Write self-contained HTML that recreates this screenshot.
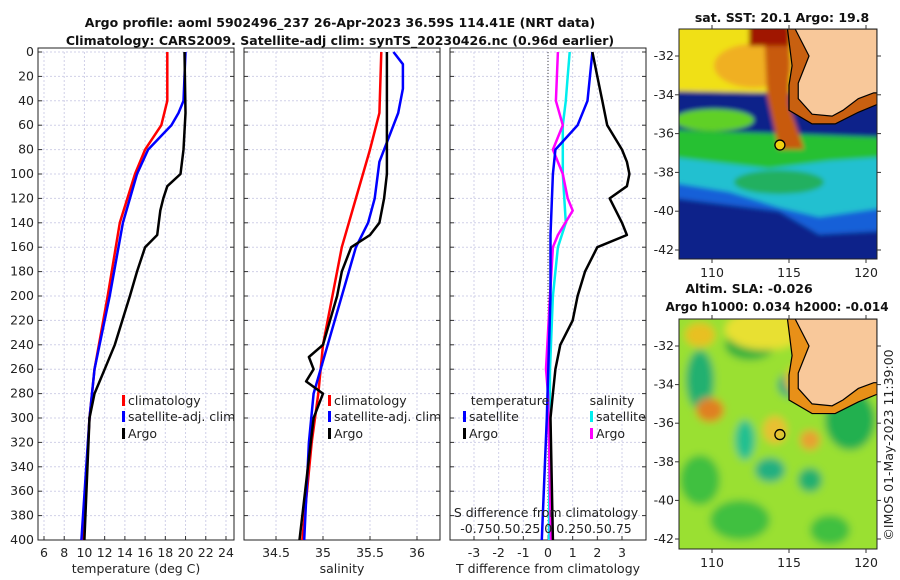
<!DOCTYPE html>
<html><head><meta charset="utf-8"><style>
body{margin:0;background:#fff;}
svg{display:block;font-family:"DejaVu Sans","Liberation Sans",sans-serif;}
.t{font-size:12.5px;fill:#222;}
.b{font-size:12.5px;font-weight:bold;fill:#111;}
</style></head><body>
<svg id="c" width="900" height="580">
<text class="b" x="340" y="27" text-anchor="middle">Argo profile: aoml 5902496_237 26-Apr-2023 36.59S 114.41E (NRT data)</text>
<text class="b" x="340" y="45" text-anchor="middle">Climatology: CARS2009. Satellite-adj clim: synTS_20230426.nc (0.96d earlier)</text>
<g id="p1"></g>
<g id="p2"></g>
<g id="p3"></g>
<g id="m1"></g>
<g id="m2"></g>
<text class="t" transform="translate(893,445) rotate(-90)" text-anchor="middle">©IMOS 01-May-2023 11:39:00</text>
</svg>
<script>
const NS='http://www.w3.org/2000/svg';
const depthTicks=[0,20,40,60,80,100,120,140,160,180,200,220,240,260,280,300,320,340,360,380,400];
const tempTicks=[6,8,10,12,14,16,18,20,22,24];
const salTicks=[34.5,35,35.5,36];
const dTTicks=[-3,-2,-1,0,1,2,3];
const tClimD=[0,40,60,80,100,140,200,260,300,400];
const tClimV=[18.2,18.2,17.6,16,15,13.5,12.3,11,10.5,9.8];
const tSatD=[0,40,50,60,80,100,140,200,260,300,400];
const tSatV=[20,19.8,19.3,18.6,16.3,15.2,13.8,12.5,11,10.5,9.7];
const tArgD=[0,50,80,100,110,120,130,150,160,180,200,240,260,280,300,400];
const tArgV=[19.9,20,19.8,19.5,18.2,17.8,17.5,17.2,16,15.2,14.5,13,12,11,10.5,10];
const sClimD=[0,50,80,120,160,200,240,280,320,400];
const sClimV=[35.62,35.6,35.5,35.35,35.2,35.1,35,34.95,34.88,34.78];
const sSatD=[0,10,30,50,70,90,120,140,160,200,240,280,320,400];
const sSatV=[35.75,35.85,35.85,35.8,35.7,35.6,35.55,35.48,35.35,35.2,35.05,34.9,34.85,34.8];
const sArgD=[0,100,120,140,150,160,180,200,240,250,260,270,280,300,400];
const sArgV=[35.68,35.68,35.65,35.6,35.5,35.3,35.2,35.15,35,34.85,34.9,34.82,35,34.9,34.75];
const dTSatD=[0,40,60,80,100,150,200,300,400];
const dTSatV=[1.8,1.6,1.2,0.3,0.2,0.1,0.1,-0.05,-0.25];
const dTArgD=[0,20,40,60,80,90,100,110,120,140,150,160,180,200,220,240,260,280,300,400];
const dTArgV=[1.8,2.0,2.2,2.4,3.0,3.2,3.3,3.2,2.5,3.0,3.2,2.0,1.5,1.2,1.0,0.5,0.3,0.2,0.1,0.2];
const dSSatD=[0,20,40,60,100,140,160,200,260,400];
const dSSatV=[0.22,0.2,0.18,0.15,0.15,0.18,0.1,0.05,0.02,0.01];
const dSArgD=[0,40,60,80,100,120,130,150,160,200,260,280,400];
const dSArgV=[0.1,0.08,0.15,0.05,0.15,0.2,0.25,0.1,0.05,0.02,-0.02,0.0,0.03];

const Y=d=>52+d*(540-52)/400;
function el(p,t,a){const e=document.createElementNS(NS,t);for(const k in a)e.setAttribute(k,a[k]);p.appendChild(e);return e;}
function txt(p,x,y,s,anchor,cls){const e=el(p,'text',{x:x,y:y,'text-anchor':anchor||'middle',class:cls||'t'});e.textContent=s;return e;}
function panel(g,x0,x1,X,xt,xtl,label,showY){
  for(const d of depthTicks){const l=el(g,'line',{x1:x0,x2:x1,y1:Y(d),y2:Y(d),stroke:'#d0d0e8','stroke-dasharray':'2,2'});
    }
  xt.forEach((v,i)=>{const x=X(v);const l=el(g,'line',{x1:x,x2:x,y1:52,y2:540,stroke:'#d0d0e8','stroke-dasharray':'2,2'});
    
    el(g,'line',{x1:x,x2:x,y1:540,y2:536,stroke:'#333'});
    const t=txt(g,x,557,xtl[i]);});
  for(const d of depthTicks){el(g,'line',{x1:x0,x2:x0+4,y1:Y(d),y2:Y(d),stroke:'#333'});el(g,'line',{x1:x1,x2:x1-4,y1:Y(d),y2:Y(d),stroke:'#333'});
    if(showY){const t=txt(g,x0-4,Y(d)+4,String(d),'end');}}
  const r=el(g,'rect',{x:x0,y:48,width:x1-x0,height:492,fill:'none',stroke:'#222'});
  
  const t=txt(g,(x0+x1)/2,573,label);
}
function line(g,D,V,X,col,w,name){const pts=D.map((d,i)=>X(V[i]).toFixed(1)+','+Y(d).toFixed(1)).join(' ');
  const p=el(g,'polyline',{points:pts,fill:'none',stroke:col,'stroke-width':w,'stroke-linejoin':'round'});
  }
function leg(g,x,y,col,s){el(g,'rect',{x:x,y:y-10,width:3,height:11,fill:col});const t=txt(g,x+6,y,s,'start');
  }

const g1=document.getElementById('p1');const XT=v=>44+(v-6)*10.11;
panel(g1,38,234,XT,tempTicks,tempTicks.map(String),'temperature (deg C)',true);
line(g1,tClimD,tClimV,XT,'#f00',2.5,'temp-climatology-line');
line(g1,tSatD,tSatV,XT,'#00f',2.5,'temp-satellite-line');
line(g1,tArgD,tArgV,XT,'#000',2.5,'temp-argo-line');
leg(g1,122,405,'#f00','climatology');leg(g1,122,421,'#00f','satellite-adj. clim');leg(g1,122,438,'#000','Argo');

const g2=document.getElementById('p2');const XS=v=>276+(v-34.5)*94;
panel(g2,244,440,XS,salTicks,['34.5','35','35.5','36'],'salinity',false);
line(g2,sClimD,sClimV,XS,'#f00',2.5,'sal-climatology-line');
line(g2,sSatD,sSatV,XS,'#00f',2.5,'sal-satellite-line');
line(g2,sArgD,sArgV,XS,'#000',2.5,'sal-argo-line');
leg(g2,328,405,'#f00','climatology');leg(g2,328,421,'#00f','satellite-adj. clim');leg(g2,328,438,'#000','Argo');

const g3=document.getElementById('p3');const XD=v=>548+v*24.67;const XDS=v=>XD(v*4);
panel(g3,450,646,XD,dTTicks,dTTicks.map(String),'T difference from climatology',false);
el(g3,'line',{x1:548,x2:548,y1:52,y2:540,stroke:'#444','stroke-dasharray':'1,2'});
line(g3,dSSatD,dSSatV,XDS,'#0ee',2.5,'sdiff-satellite-line');
line(g3,dSArgD,dSArgV,XDS,'#f0f',2.5,'sdiff-argo-line');
line(g3,dTSatD,dTSatV,XD,'#00f',2.5,'tdiff-satellite-line');
line(g3,dTArgD,dTArgV,XD,'#000',2.5,'tdiff-argo-line');
txt(g3,510,405,'temperature');txt(g3,612,405,'salinity');
leg(g3,463,421,'#00f','satellite');leg(g3,463,438,'#000','Argo');
leg(g3,590,421,'#0ee','satellite');leg(g3,590,438,'#f0f','Argo');
let st=txt(g3,546,517,'S difference from climatology');
let sl=txt(g3,546,533,'-0.750.50.25 0  0.250.50.75');

// maps
const LX=l=>712+(l-110)*15.4;
function map(g,top,bot,latY,title,kind){
  const x0=679,x1=877;
  const cp='clip'+kind;const d=el(g,'defs',{});const c=el(d,'clipPath',{id:cp});el(c,'rect',{x:x0,y:top,width:x1-x0,height:bot-top});
  const fl=el(d,'filter',{id:'bl'+kind});el(fl,'feGaussianBlur',{stdDeviation:kind==='sst'?2.5:4});
  const m=el(g,'g',{'clip-path':'url(#'+cp+')'});
  const F=el(m,'g',{filter:'url(#bl'+kind+')'});
  if(kind==='sst'){
    el(F,'rect',{x:x0-10,y:top-10,width:220,height:bot-top+20,fill:'#08208a'});
    el(F,'path',{d:`M${x0-10},${latY(-39.3)} L${x0+100},${latY(-40)} L${x0+140},${latY(-41.2)} L${x1+10},${latY(-41)} L${x1+10},${latY(-39)} L${x0-10},${latY(-38.2)}Z`,fill:'#1860d8'});
    el(F,'path',{d:`M${x0-10},${latY(-38.5)} L${x0+50},${latY(-39)} L${x0+100},${latY(-39.8)} L${x0+140},${latY(-40.3)} L${x1+10},${latY(-39.8)} L${x1+10},${latY(-37)} L${x0-10},${latY(-37)}Z`,fill:'#20c0d0'});
    el(F,'ellipse',{cx:x0+100,cy:latY(-38.5),rx:45,ry:12,fill:'#20b060'});
    el(F,'path',{d:`M${x0-10},${latY(-37.2)} L${x0+90},${latY(-37.8)} L${x0+150},${latY(-37.4)} L${x1+10},${latY(-37.2)} L${x1+10},${latY(-36.2)} L${x0-10},${latY(-35.8)}Z`,fill:'#28c030'});
    el(F,'rect',{x:x0-10,y:latY(-36),width:220,height:latY(-33.5)-latY(-36),fill:'#c8ec18'});
    el(F,'ellipse',{cx:x0+35,cy:latY(-35.3),rx:40,ry:11,fill:'#60d028'});
    el(F,'path',{d:`M${x0-10},${top-10} L${x1},${top-10} L${x1},${latY(-34)} L${x0-10},${latY(-33.8)}Z`,fill:'#f0e018'});
    el(F,'ellipse',{cx:x0+75,cy:latY(-32.5),rx:40,ry:22,fill:'#f0b020'});
    el(F,'path',{d:`M${x0+85},${top} L${x0+112},${top} L${x0+110},${latY(-34.5)} L${x0+125},${latY(-36.8)} L${x0+100},${latY(-36.8)} L${x0+88},${latY(-34)}Z`,fill:'#c85a10'});
    el(F,'rect',{x:x0+70,y:top-5,width:40,height:22,fill:'#a01800'});
    el(F,'rect',{x:x0+115,y:latY(-36.3),width:90,height:latY(-34.5)-latY(-36.3),fill:'#f2c818'});
  }else{
    el(F,'rect',{x:x0-10,y:top-10,width:220,height:bot-top+20,fill:'#9ae030'});
    [[700,380,14,30,'#20b070'],[750,345,25,15,'#30b040'],[790,385,12,12,'#20a880'],[745,440,10,20,'#20c090'],[770,470,15,12,'#20b080'],[810,480,12,12,'#20b070'],[850,420,25,30,'#20b050'],[700,480,20,25,'#40c040'],[740,520,30,20,'#40c040'],[830,530,20,15,'#40c040']].forEach(a=>el(F,'ellipse',{cx:a[0],cy:a[1],rx:a[2],ry:a[3],fill:a[4]}));
    [[710,410,14,12,'#e08020'],[765,330,40,20,'#e8e030'],[700,335,15,12,'#e8c020'],[775,430,12,14,'#e8c030'],[810,440,10,10,'#e8a030'],[800,380,15,15,'#e8c020']].forEach(a=>el(F,'ellipse',{cx:a[0],cy:a[1],rx:a[2],ry:a[3],fill:a[4]}));
  }
  const land=`M${LX(115.4)},${top} L${LX(116.3)},${latY(-32)} L${LX(115.6)},${latY(-33.4)} L${LX(115.6)},${latY(-34.2)} L${LX(116.5)},${latY(-35)} L${LX(117.8)},${latY(-35.1)} L${LX(118.5)},${latY(-34.8)} L${LX(119.5)},${latY(-34.2)} L${LX(120.5)},${latY(-33.9)} L${x1},${latY(-33.9)} L${x1},${top}Z`;
  el(m,'path',{d:`M${LX(114.9)},${top} L${LX(115.2)},${latY(-32.5)} L${LX(115)},${latY(-33.5)} L${LX(115)},${latY(-34.8)} L${LX(116.5)},${latY(-35.5)} L${LX(118)},${latY(-35.5)} L${LX(119.5)},${latY(-34.9)} L${x1},${latY(-34.5)} L${x1},${top}Z`,fill:kind==='sst'?'#c86010':'#e89018',stroke:'#000','stroke-width':1.2});
  const L=el(m,'path',{d:land,fill:'#f8c89a',stroke:'#000','stroke-width':1.2});
  
  const p=el(g,'circle',{cx:LX(114.41),cy:latY(-36.59),r:5,fill:kind==='sst'?'#f0d010':'none',stroke:'#000','stroke-width':1.3});
  
  el(g,'rect',{x:x0,y:top,width:x1-x0,height:bot-top,fill:'none',stroke:'#222'});
  [-32,-34,-36,-38,-40,-42].forEach(l=>{el(g,'line',{x1:x0-4,x2:x0,y1:latY(l),y2:latY(l),stroke:'#333'});el(g,'line',{x1:x1,x2:x1+4,y1:latY(l),y2:latY(l),stroke:'#333'});
    const t=txt(g,x0-5,latY(l)+4,String(l),'end');});
  [110,115,120].forEach(l=>{el(g,'line',{x1:LX(l),x2:LX(l),y1:bot,y2:bot+4,stroke:'#333'});el(g,'line',{x1:LX(l),x2:LX(l),y1:top,y2:top-4,stroke:'#333'});
    const t=txt(g,LX(l),bot+18,String(l));});
  title.forEach((s,i)=>{const t=txt(g,i===0&&kind==='sla'?749:(kind==='sla'?777:782),(kind==='sst'?22:293)+i*18,s,'middle','b');
    if(kind==='sla'&&i===1)t.setAttribute('style','font-size:12px');
    });
}
const Y1=l=>56+(-32-l)*19.4, Y2=l=>346+(-32-l)*19.3;
map(document.getElementById('m1'),29,259,Y1,['sat. SST: 20.1 Argo: 19.8'],'sst');
map(document.getElementById('m2'),319,549,Y2,['Altim. SLA: -0.026','Argo h1000: 0.034 h2000: -0.014'],'sla');
</script>
</body></html>
